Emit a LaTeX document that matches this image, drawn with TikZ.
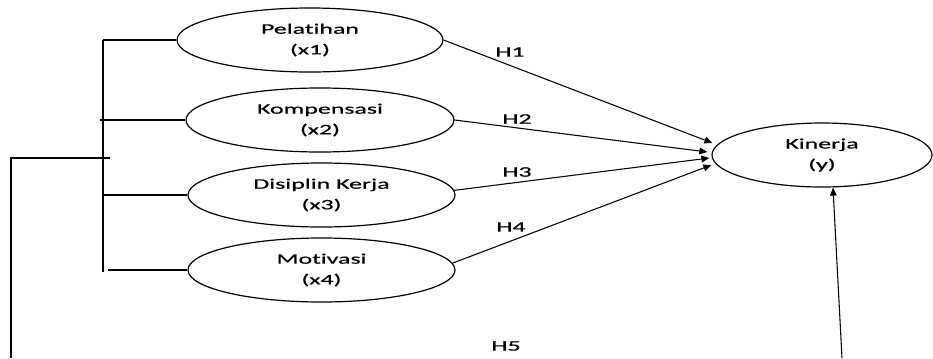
\documentclass[tikz,border=0pt]{standalone}
\usepackage{fontspec}
\setmainfont[FakeStretch=1.78,FakeBold=0.6,Ligatures={NoCommon,NoRare,NoContextual}]{Carlito}
\usetikzlibrary{shapes.geometric,arrows.meta,calc}
\begin{document}
\begin{tikzpicture}[x=0.75pt,y=-0.75pt,
  var/.style={draw, ellipse, line width=0.9pt, inner sep=0pt, minimum height=48pt, align=center, font=\fontsize{10.9}{15.5}\selectfont, execute at begin node={\rule{0pt}{16pt}}},
  ln/.style={line width=0.8pt},
  arr/.style={ln, -{Triangle[length=6pt,width=5pt]}},
  lbl/.style={font=\fontsize{10.9}{13}\selectfont, inner sep=0pt}]
\useasboundingbox (0,0) rectangle (933,358);
\node[var, minimum width=199.5pt] (e1) at (310,40) {Pelatihan\\(x1)};
\node[var, minimum width=201pt] (e2) at (320,120) {Kompensasi\\(x2)};
\node[var, minimum width=200.25pt] (e3) at (321.5,195) {Disiplin Kerja\\(x3)};
\node[var, minimum width=200.25pt] (e4) at (321.5,270) {Motivasi\\(x4)};
\node[var, minimum width=165pt] (ky) at (822,155) {Kinerja\\(y)};
% bracket
\coordinate (bt) at (103,40);
\coordinate (bb) at (103,272);
\draw[ln, line width=1.1pt] (bt) -- (bb);
\draw[ln] (e1.west) -- (e1.west -| bt);
\draw[ln] (e2.west) -- ($(e2.west -| bt)+(-3,0)$);
\draw[ln] (e3.west) -- (e3.west -| bt);
\draw[ln] (e4.west) -- ($(e4.west -| bt)+(5,0)$);
\coordinate (m) at (110,158);
\coordinate (c) at (11,158);
\coordinate (d) at (11,358);
\draw[ln, line width=1.1pt] (m) -- (c) -- (d);
% arrows
\draw[arr] (e1.east) -- ($(ky.west)+(1,-12)$);
\draw[arr] (e2.east) -- ($(ky.west)+(-4,-3)$);
\draw[arr] (e3.2) -- ($(ky.west)+(-2,3)$);
\draw[arr] (e4.3) -- ($(ky.west)+(0,10)$);
\coordinate (b) at (842,358);
\draw[arr] (b) -- ($(ky.south)+(11,0)$);
% labels
\node[lbl] (h1) at (510,52) {H1};
\node[lbl] (h2) at (517,119) {H2};
\node[lbl] (h3) at (517,172) {H3};
\node[lbl] (h4) at (511,227) {H4};
\node[lbl] (h5) at (506,346) {H5};
\end{tikzpicture}
\end{document}
